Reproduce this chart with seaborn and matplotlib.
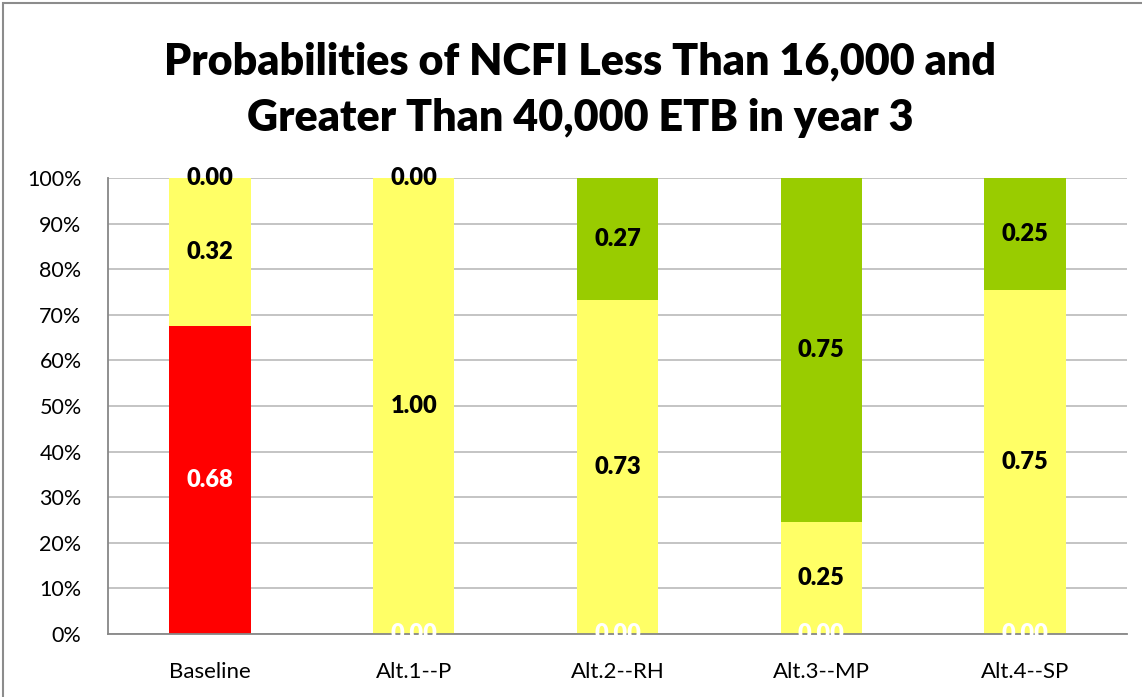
import matplotlib
matplotlib.use("Agg")
import matplotlib.pyplot as plt
from matplotlib.patches import Rectangle
from matplotlib.ticker import PercentFormatter, FixedLocator
import seaborn as sns
import pandas as pd

# Scenario names and the probability of each NCFI class per scenario
categories = ["Baseline", "Alt.1--P", "Alt.2--RH", "Alt.3--MP", "Alt.4--SP"]
p_below_16000 = [0.676, 0.000, 0.000, 0.000, 0.000]
p_between = [0.324, 1.000, 0.733, 0.246, 0.754]
p_above_40000 = [0.000, 0.000, 0.267, 0.754, 0.246]

title_text = "Probabilities of NCFI Less Than 16,000 and\nGreater Than 40,000 ETB in year 3"

RED = "#FF0000"
YELLOW = "#FFFF66"
GREEN = "#99CC00"
GRID = "#BFBFBF"
AXIS = "#878787"

sns.set_theme(style="white")
plt.rcParams["font.family"] = ["Lato", "DejaVu Sans"]

df = pd.DataFrame({
    "scenario": categories,
    "low": p_below_16000,
    "mid": p_between,
    "high": p_above_40000,
})
df["cum_mid"] = df["low"] + df["mid"]
df["cum_high"] = df["cum_mid"] + df["high"]

fig = plt.figure(figsize=(11.42, 6.97), dpi=100)
ax = fig.add_axes([108 / 1142, 1 - 634 / 697, (1127 - 108) / 1142, (634 - 178) / 697])

# Stacked bars: draw the cumulative totals from the top layer down
for col, colour in [("cum_high", GREEN), ("cum_mid", YELLOW), ("low", RED)]:
    sns.barplot(data=df, x="scenario", y=col, color=colour, saturation=1,
                width=0.4, linewidth=0, ax=ax, zorder=2)

# Segment value labels centred in each segment
for i, row in df.iterrows():
    segments = [
        (0.0, row["low"], "white"),
        (row["low"], row["mid"], "black"),
        (row["cum_mid"], row["high"], "black"),
    ]
    for base, val, tc in segments:
        if tc == "black" and val == 0 and base < 1:
            continue
        ax.text(i, base + val / 2, f"{val:.2f}", ha="center", va="center",
                fontsize=17, fontweight="heavy", color=tc, zorder=5)

ax.set_xlim(-0.5, 4.5)
ax.set_ylim(0, 1)
ax.set_yticks([i / 10 for i in range(11)])
ax.yaxis.set_major_formatter(PercentFormatter(1.0, decimals=0))
ax.yaxis.grid(True, color=GRID, linewidth=1.3, zorder=0)
ax.set_axisbelow(True)
ax.set_xlabel("")
ax.set_ylabel("")

# Tick marks between categories on the x axis
ax.xaxis.set_minor_locator(FixedLocator([-0.5 + k for k in range(6)]))
ax.tick_params(axis="x", which="major", length=0, pad=20, labelsize=16)
ax.tick_params(axis="x", which="minor", length=8, width=1.3, color=AXIS, direction="out")
ax.tick_params(axis="y", which="major", length=7, width=1.3, color=AXIS,
               direction="out", labelsize=15.5, pad=12)
ax.tick_params(axis="both", labelcolor="black")

for side in ["top", "right"]:
    ax.spines[side].set_visible(False)
for side in ["left", "bottom"]:
    ax.spines[side].set_color(AXIS)
    ax.spines[side].set_linewidth(1.3)
    ax.spines[side].set_zorder(3)

fig.text(0.508, 1 - 90 / 697, title_text, ha="center", va="center",
         fontsize=31, fontweight="heavy", color="black", linespacing=1.5)

# Chart frame
fig.patches.append(Rectangle((3 / 1142, -0.2), 2.0, 1.2 - 3 / 697,
                             transform=fig.transFigure, fill=False,
                             edgecolor="#8C8C8C", linewidth=1.5))

fig.savefig("out.png", dpi=100)
